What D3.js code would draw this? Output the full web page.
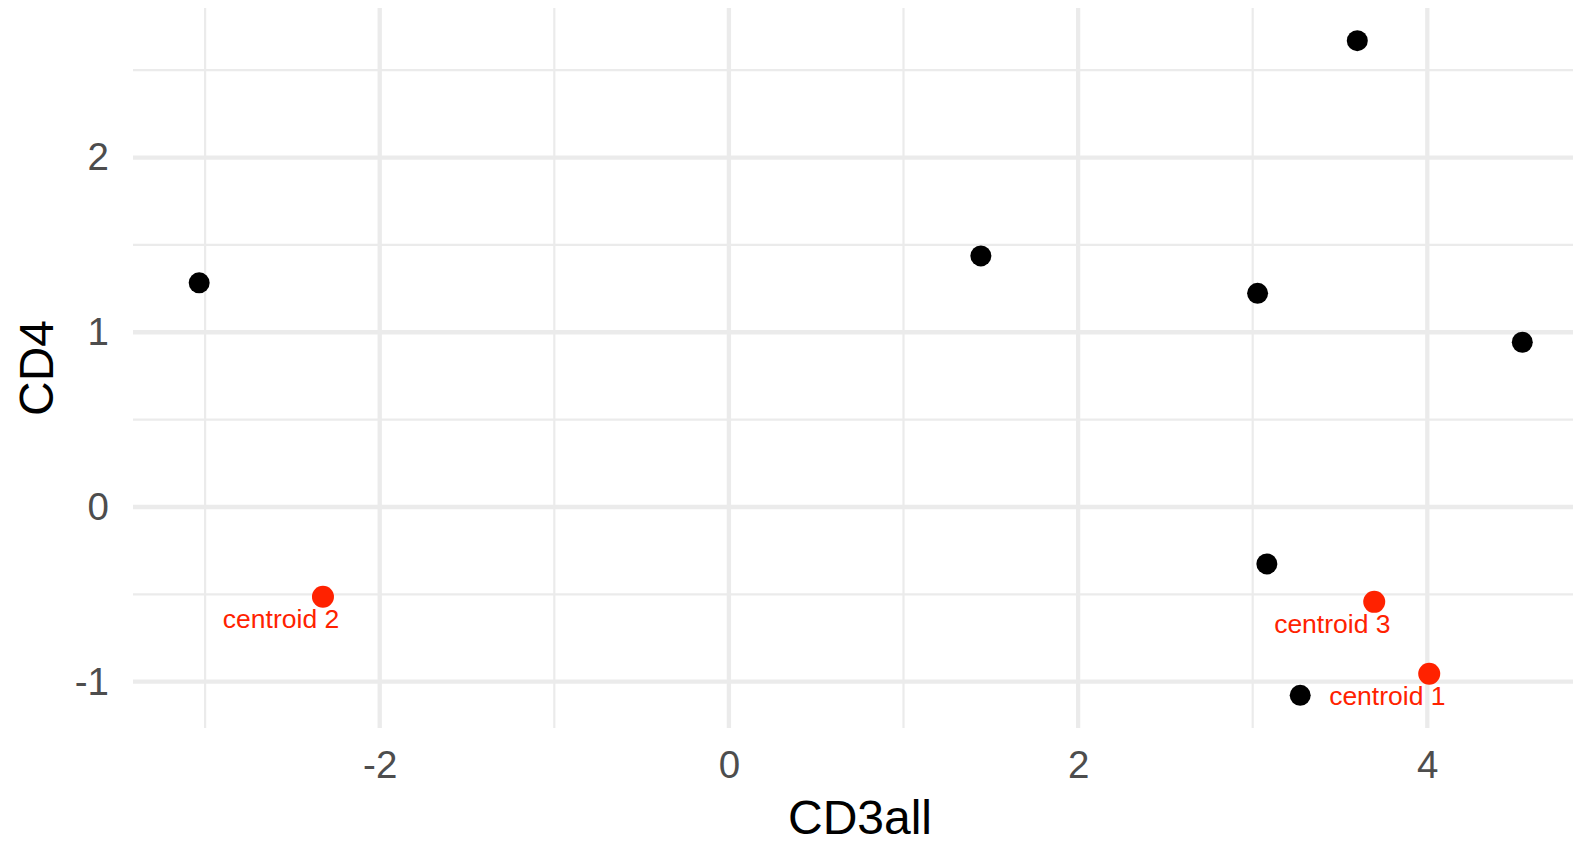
<!DOCTYPE html>
<html>
<head>
<meta charset="utf-8">
<script src="https://cdn.jsdelivr.net/npm/d3@7"></script>
<style>
  html, body { margin: 0; padding: 0; background: #ffffff; }
  svg { display: block; font-family: "Liberation Sans", Arial, Helvetica, sans-serif; }
</style>
</head>
<body>
<svg id="chart" width="1573" height="841"></svg>
<script>
// ---- data ----
const cellCD3all = [-3.034, 1.443, 3.599, 3.028, 4.544, 3.081, 3.272];
const cellCD4    = [ 1.283, 1.437, 2.669, 1.223, 0.943, -0.326, -1.078];

const centroidCD3all = [4.011, -2.325, 3.696];
const centroidCD4    = [-0.954, -0.514, -0.543];
const centroidLabels = ["centroid 1", "centroid 2", "centroid 3"];

const xMajorTicks = [-2, 0, 2, 4];
const xMinorTicks = [-3, -1, 1, 3];
const yMajorTicks = [-1, 0, 1, 2];
const yMinorTicks = [-0.5, 0.5, 1.5, 2.5];

const xTitle = "CD3all";
const yTitle = "CD4";

// ---- layout ----
const svg = d3.select("#chart");
const panel = { left: 133, top: 8, bottom: 728 };
const xDomain = [-3.413, 4.923];
const yDomain = [-1.265, 2.856];
const x = d3.scaleLinear().domain(xDomain).range([panel.left, panel.left + 174.6 * (xDomain[1] - xDomain[0])]);
const y = d3.scaleLinear().domain(yDomain).range([panel.bottom, panel.top]);
const xr = x.range(), yr = y.range();

const grid = svg.append("g");
// minor grid
grid.selectAll(".vminor").data(xMinorTicks).join("line")
  .attr("x1", d => x(d)).attr("x2", d => x(d)).attr("y1", yr[0]).attr("y2", yr[1])
  .attr("stroke", "#EBEBEB").attr("stroke-width", 2.2);
grid.selectAll(".hminor").data(yMinorTicks).join("line")
  .attr("y1", d => y(d)).attr("y2", d => y(d)).attr("x1", xr[0]).attr("x2", xr[1])
  .attr("stroke", "#EBEBEB").attr("stroke-width", 2.2);
// major grid
grid.selectAll(".vmajor").data(xMajorTicks).join("line")
  .attr("x1", d => x(d)).attr("x2", d => x(d)).attr("y1", yr[0]).attr("y2", yr[1])
  .attr("stroke", "#EBEBEB").attr("stroke-width", 4.3);
grid.selectAll(".hmajor").data(yMajorTicks).join("line")
  .attr("y1", d => y(d)).attr("y2", d => y(d)).attr("x1", xr[0]).attr("x2", xr[1])
  .attr("stroke", "#EBEBEB").attr("stroke-width", 4.3);

// axes (labels only)
const fmt = d => d < 0 ? "-" + Math.abs(d) : String(d);
const xAxis = svg.append("g").attr("transform", `translate(0,${panel.bottom})`)
  .call(d3.axisBottom(x).tickValues(xMajorTicks).tickSize(0).tickPadding(23).tickFormat(fmt));
const yAxis = svg.append("g").attr("transform", `translate(${panel.left},0)`)
  .call(d3.axisLeft(y).tickValues(yMajorTicks).tickSize(0).tickPadding(24).tickFormat(fmt));
[xAxis, yAxis].forEach(a => {
  a.select(".domain").remove();
  a.selectAll("text").attr("font-size", 38.5).attr("fill", "#4D4D4D")
    .attr("font-family", "\"Liberation Sans\", Arial, Helvetica, sans-serif");
});

// axis titles
svg.append("text").attr("x", 860).attr("y", 834).attr("text-anchor", "middle")
  .attr("font-size", 48).attr("fill", "#000").text(xTitle);
svg.append("text").attr("transform", "translate(53,368) rotate(-90)").attr("text-anchor", "middle")
  .attr("font-size", 48).attr("fill", "#000").text(yTitle);

// points
const cells = cellCD3all.map((v, i) => ({ x: v, y: cellCD4[i] }));
svg.append("g").selectAll("circle").data(cells).join("circle")
  .attr("cx", d => x(d.x)).attr("cy", d => y(d.y)).attr("r", 10.5).attr("fill", "#000");

const cents = centroidCD3all.map((v, i) => ({ x: v, y: centroidCD4[i], label: centroidLabels[i] }));
svg.append("g").selectAll("circle").data(cents).join("circle")
  .attr("cx", d => x(d.x)).attr("cy", d => y(d.y)).attr("r", 11).attr("fill", "#FF2200");

const nudgeX = -0.24, nudgeY = -0.178;
svg.append("g").selectAll("text").data(cents).join("text")
  .attr("x", d => x(d.x + nudgeX)).attr("y", d => y(d.y + nudgeY))
  .attr("text-anchor", "middle").attr("font-size", 26.5).attr("fill", "#FF2200")
  .text(d => d.label);
</script>
</body>
</html>
